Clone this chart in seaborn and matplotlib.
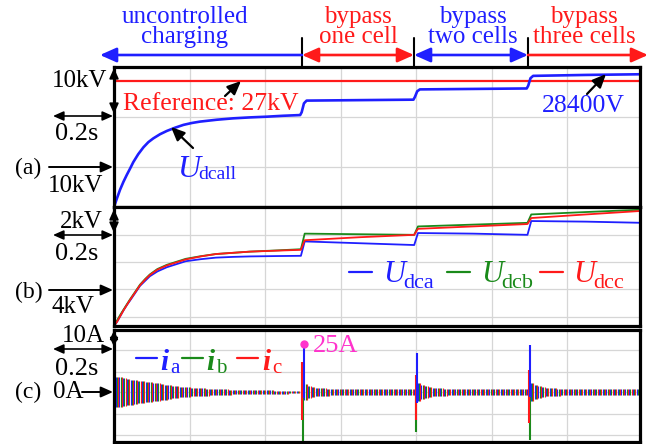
import numpy as np
import pandas as pd
import matplotlib
matplotlib.use("Agg")
import matplotlib.pyplot as plt
import seaborn as sns
from matplotlib.patches import FancyArrowPatch
from matplotlib.lines import Line2D

# ---------------- data ----------------
# (a) total DC voltage, kV
t_a = [0, 0.008, 0.016, 0.025, 0.034, 0.043, 0.051, 0.064, 0.078, 0.091, 0.104,
       0.122, 0.14, 0.162, 0.184, 0.206, 0.228, 0.272, 0.316, 0.36, 0.404, 0.448,
       0.493, 0.497, 0.503, 0.51, 0.65, 0.793, 0.797, 0.803, 0.81, 0.95, 1.093,
       1.097, 1.103, 1.11, 1.25, 1.4]
u_dcall = [0, 1.9, 3.7, 5.4, 6.9, 8.3, 9.6, 11.3, 12.8, 13.9, 14.7,
           15.6, 16.3, 17.0, 17.6, 18.0, 18.3, 18.7, 19.0, 19.2, 19.35, 19.55,
           19.7, 20.3, 22.2, 22.8, 22.9, 23.0, 23.6, 24.8, 25.2, 25.3, 25.4,
           26.0, 27.6, 28.1, 28.3, 28.45]
u_ref = 27.0

# (b) per-phase DC voltages, kV
t_b = [0, 0.008, 0.017, 0.025, 0.034, 0.042, 0.055, 0.069, 0.082, 0.095, 0.115,
       0.14, 0.165, 0.19, 0.23, 0.27, 0.315, 0.36, 0.43, 0.495,
       0.505, 0.65, 0.795, 0.805, 0.95, 1.095, 1.105, 1.25, 1.4]
u_dca = [0, 0.35, 0.85, 1.3, 1.75, 2.1, 2.7, 3.35, 3.75, 4.15, 4.55,
         4.9, 5.15, 5.4, 5.57, 5.7, 5.76, 5.8, 5.83, 5.85,
         7.05, 6.9, 6.75, 7.75, 7.7, 7.6, 8.75, 8.7, 8.6]
u_dcb = [0, 0.45, 0.95, 1.35, 1.8, 2.2, 2.8, 3.45, 3.9, 4.3, 4.75,
         5.1, 5.35, 5.6, 5.82, 6.0, 6.1, 6.2, 6.3, 6.4,
         7.7, 7.65, 7.6, 8.3, 8.45, 8.6, 9.3, 9.5, 9.7]
u_dcc = [0, 0.35, 0.85, 1.3, 1.75, 2.15, 2.75, 3.4, 3.85, 4.25, 4.7,
         5.05, 5.3, 5.55, 5.8, 6.0, 6.1, 6.2, 6.28, 6.35,
         7.15, 7.4, 7.6, 8.1, 8.3, 8.5, 9.0, 9.3, 9.6]

# (c) current oscillation envelope (A), one value per 10 ms
env_charge = [8.0, 7.6, 7.2, 6.8, 6.5, 6.2, 5.9, 5.6, 5.4, 5.1,
              4.8, 4.5, 4.2, 3.9, 3.6, 3.3, 3.0, 2.8, 2.6, 2.4,
              2.25, 2.1, 2.0, 1.9, 1.8, 1.7, 1.6, 1.5, 1.4, 1.35,
              1.3, 1.25, 1.2, 1.15, 1.1, 1.05, 1.0, 0.95, 0.9, 0.9,
              0.85, 0.85, 0.8, 0.8, 0.8, 0.8, 0.75, 0.75, 0.75, 0.75]
env_one = [4.0, 3.0, 2.5, 2.2, 2.0, 1.9, 1.8] + [1.7] * 23
env_two = [4.5, 3.5, 3.0, 2.5, 2.2, 2.0, 1.9, 1.8] + [1.7] * 22
env_three = [4.5, 3.5, 3.0, 2.6, 2.3, 2.0, 1.9, 1.8] + [1.7] * 22
i_env = env_charge + env_one + env_two + env_three

# switching spikes (A)
spike_t = [0.5, 0.8, 1.1]
ia_hi = [25.0, 20.3, 24.5]
ia_lo = [-3.0, -5.7, -2.4]
ib_hi = [2.0, 0.5, 2.8]
ib_lo = [-27.0, -20.8, -25.0]
ic_hi = [15.8, 8.9, 11.5]
ic_lo = [-14.6, -14.6, -16.0]

stage_labels = ["uncontrolled\ncharging", "bypass\none cell", "bypass\ntwo cells", "bypass\nthree cells"]

# ---------------- style ----------------
sns.set_theme(style="white")
SERIF = "Liberation Serif"
plt.rcParams["font.family"] = SERIF

BLUE = "#1f1fff"
RED = "#ff1a1a"
GREEN = "#1a8a1a"
PINK = "#ff33cc"
GRIDC = "#d6d6d6"

W, H = 653, 444
fig = plt.figure(figsize=(W / 100, H / 100), dpi=100)


def fx(x):
    return x / W


def fy(y):
    return 1 - y / H


def ax_rect(top, bottom, left=114, right=640):
    return [fx(left), fy(bottom), (right - left) / W, (bottom - top) / H]


ax_a = fig.add_axes(ax_rect(67, 207))
ax_b = fig.add_axes(ax_rect(207, 326))
ax_c = fig.add_axes(ax_rect(330, 442))

XMAX = 1.393
grid_x = [0.2, 0.4, 0.6, 0.8, 1.0, 1.2]
for ax, ylim, gy in [(ax_a, (0, 30), [8.57, 19.29]),
                     (ax_b, (0, 9.92), [0.75, 3.08, 5.33, 7.58]),
                     (ax_c, (-26, 32.3), [-22.4, -11.5, 0, 10.4, 21.9])]:
    ax.set_xlim(0, XMAX)
    ax.set_ylim(*ylim)
    ax.set_xticks(grid_x)
    ax.set_yticks(gy)
    ax.grid(True, color=GRIDC, lw=0.9)
    ax.tick_params(length=0, labelbottom=False, labelleft=False)
    for s in ax.spines.values():
        s.set_visible(True)
        s.set_color("black")
        s.set_linewidth(2.3)
        s.set_zorder(10)

# ---------------- (a) ----------------
ax_a.axhline(u_ref, color=RED, lw=1.6, zorder=3)
sns.lineplot(x=t_a, y=u_dcall, ax=ax_a, color=BLUE, lw=1.9, zorder=4)

# ---------------- (b) ----------------
df_b = pd.DataFrame({"t": t_b, "a": u_dca, "b": u_dcb, "c": u_dcc})
sns.lineplot(data=df_b, x="t", y="a", ax=ax_b, color=BLUE, lw=1.3, zorder=3)
sns.lineplot(data=df_b, x="t", y="b", ax=ax_b, color=GREEN, lw=1.3, zorder=4)
sns.lineplot(data=df_b, x="t", y="c", ax=ax_b, color=RED, lw=1.3, zorder=5)

# ---------------- (c) ----------------
t_env = np.arange(len(i_env)) * 0.01 + 0.004
amp = np.array(i_env)
for k, col in enumerate([BLUE, GREEN, RED]):
    ax_c.vlines(t_env + k * 0.0033, -amp, amp, color=col, lw=0.8, zorder=3 + k)
for lo, hi, col, off in [(ib_lo, ib_hi, GREEN, 0.001), (ic_lo, ic_hi, RED, -0.001),
                         (ia_lo, ia_hi, BLUE, 0.002)]:
    ax_c.vlines(np.array(spike_t) + off, lo, hi, color=col, lw=1.5, zorder=7)
ax_c.plot([spike_t[0] + 0.002], [ia_hi[0]], "o", color=PINK, ms=5, zorder=8, clip_on=False)

for ax in (ax_a, ax_b, ax_c):
    ax.set_xlabel("")
    ax.set_ylabel("")


# ---------------- annotations ----------------
def farrow(p1, p2, style="-|>", color="black", lw=1.2, ms=10, hl=0.9, hw=0.4):
    a = FancyArrowPatch((fx(p1[0]), fy(p1[1])), (fx(p2[0]), fy(p2[1])),
                        transform=fig.transFigure,
                        arrowstyle=f"{style},head_length={hl},head_width={hw}",
                        mutation_scale=ms, color=color, lw=lw,
                        shrinkA=0, shrinkB=0, zorder=20)
    fig.add_artist(a)


def vline_fig(x, y1, y2, lw=1.5):
    fig.add_artist(Line2D([fx(x), fx(x)], [fy(y1), fy(y2)], color="black", lw=lw,
                          transform=fig.transFigure, zorder=20))


def T(x, y, s, color="black", size=18, ha="left", va="baseline", **kw):
    fig.text(fx(x), fy(y), s, color=color, fontsize=size, ha=ha, va=va,
             family=SERIF, **kw)


# top stage arrows
for x in [302, 414, 528]:
    vline_fig(x, 38, 67)
farrow((302, 55), (100, 55), "-|>", BLUE, lw=1.9, ms=11)
farrow((302, 55), (414, 55), "<|-|>", RED, lw=1.9, ms=11)
farrow((414, 55), (528, 55), "<|-|>", BLUE, lw=1.9, ms=11)
farrow((528, 55), (648, 55), "-|>", RED, lw=1.9, ms=11)
for cx, lab, col in [(185, stage_labels[0], BLUE), (358, stage_labels[1], RED),
                     (473, stage_labels[2], BLUE), (584, stage_labels[3], RED)]:
    T(cx, 27, lab, col, 18, ha="center", va="center", linespacing=0.85)

# (a) texts
T(123, 110, "Reference: 27kV", RED, 18.5)
T(542, 112, "28400V", BLUE, 18.5)
T(177, 177, "U", BLUE, 23, style="italic")
T(198, 179, "dcall", BLUE, 14)
farrow((225, 96), (241, 81), lw=1.6, ms=9)
farrow((193, 148), (171, 127), lw=1.6, ms=9)
farrow((587, 94), (606, 74), lw=1.6, ms=9)

# (b) legend
for x0, col in [(349, BLUE), (447, GREEN), (540, RED)]:
    fig.add_artist(Line2D([fx(x0), fx(x0 + 23)], [fy(272), fy(272)], color=col, lw=1.6,
                          transform=fig.transFigure))
T(383, 282, "U", BLUE, 22, style="italic")
T(403, 288, "dca", BLUE, 16)
T(481, 282, "U", GREEN, 22, style="italic")
T(501, 288, "dcb", GREEN, 16)
T(573, 282, "U", RED, 22, style="italic")
T(593, 288, "dcc", RED, 16)

# (c) legend
for x0, col, sub, xi in [(136, BLUE, "a", 160), (182, GREEN, "b", 206), (237, RED, "c", 262)]:
    fig.add_artist(Line2D([fx(x0), fx(x0 + 21)], [fy(358), fy(358)], color=col, lw=1.6,
                          transform=fig.transFigure))
    T(xi, 370, "i", col, 21, style="italic", weight="bold")
    T(xi + 10, 373, sub, col, 15)
T(313, 352, "25A", PINK, 19)

# left scale markers
# (a)
T(52, 87, "10kV", size=18)
farrow((114, 68), (114, 114), "<|-|>", lw=1.2, ms=7)
farrow((53, 116), (113, 116), "<|-|>", lw=1.2, ms=7)
T(55, 140, "0.2s", size=19)
T(28, 168, "(a)", size=17, ha="center", va="center")
farrow((49, 167), (113, 167), "-|>", lw=1.4, ms=8)
T(48, 192, "10kV", size=18)
# (b)
T(60, 228, "2kV", size=18)
farrow((114, 209), (114, 233), "<|-|>", lw=1.2, ms=7)
farrow((53, 235), (113, 235), "<|-|>", lw=1.2, ms=7)
T(55, 260, "0.2s", size=19)
T(29, 292, "(b)", size=17, ha="center", va="center")
farrow((49, 290), (113, 290), "-|>", lw=1.4, ms=8)
T(52, 313, "4kV", size=18)
# (c)
T(62, 342, "10A", size=18)
farrow((114, 330), (114, 347), "<|-|>", lw=1.2, ms=6)
farrow((53, 349), (113, 349), "<|-|>", lw=1.2, ms=7)
T(55, 375, "0.2s", size=19)
T(28, 392, "(c)", size=17, ha="center", va="center")
T(53, 398, "0A", size=18)
farrow((82, 392), (113, 392), "-|>", lw=1.4, ms=8)

fig.savefig("out.png", dpi=100)
